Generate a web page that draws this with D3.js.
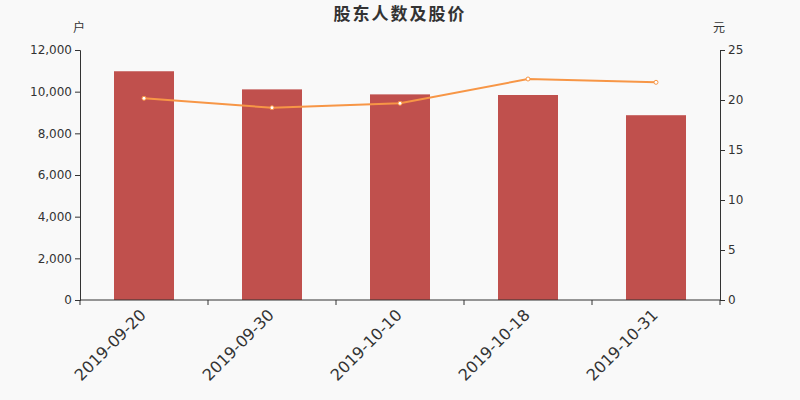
<!DOCTYPE html>
<head>
  <meta charset="utf-8">
  <script src="https://d3js.org/d3.v7.min.js"></script>
  <style>
    body { margin: 0; background: #f9f9f9; }
    svg { display: block; font-family: "Noto Sans CJK SC", "DejaVu Sans", sans-serif; }
  </style>
</head>
<body>
  <svg width="800" height="400"></svg>
  <script>
    // data
    var dates = ["2019-09-20", "2019-09-30", "2019-10-10", "2019-10-18", "2019-10-31"];
    var holders = [10980, 10110, 9870, 9840, 8870];
    var prices = [20.17, 19.23, 19.67, 22.1, 21.77];
    var leftTicks = [0, 2000, 4000, 6000, 8000, 10000, 12000];
    var rightTicks = [0, 5, 10, 15, 20, 25];

    var margin = {top: 50, right: 80, bottom: 100, left: 80};
    var width = 800, height = 400;

    var svg = d3.select('svg');

    var x = d3.scaleBand()
      .domain(dates)
      .range([margin.left, width - margin.right]);

    var yLeft = d3.scaleLinear()
      .domain([0, 12000])
      .range([height - margin.bottom, margin.top]);

    var yRight = d3.scaleLinear()
      .domain([0, 25])
      .range([height - margin.bottom, margin.top]);

    // bars
    var barW = 60;
    svg.append('g').selectAll('rect')
      .data(holders)
      .enter().append('rect')
      .attr('x', function(d, i) { return x(dates[i]) + (x.bandwidth() - barW) / 2; })
      .attr('y', function(d) { return yLeft(d); })
      .attr('width', barW)
      .attr('height', function(d) { return yLeft(0) - yLeft(d); })
      .attr('fill', '#c0504d');

    // axes
    var fmt = d3.format(',');
    var gl = svg.append('g')
      .attr('transform', 'translate(' + margin.left + ',0)')
      .call(d3.axisLeft(yLeft).tickValues(leftTicks).tickFormat(fmt).tickSizeOuter(0).tickSize(5));
    var gr = svg.append('g')
      .attr('transform', 'translate(' + (width - margin.right) + ',0)')
      .call(d3.axisRight(yRight).tickValues(rightTicks).tickSizeOuter(0).tickSize(5));

    // x axis with ticks at band boundaries
    var gx = svg.append('g')
      .attr('transform', 'translate(0,' + (height - margin.bottom) + ')');
    gx.append('line')
      .attr('x1', margin.left).attr('x2', width - margin.right)
      .attr('stroke', '#333');
    var bounds = dates.map(function(d) { return x(d); }).concat([x(dates[dates.length - 1]) + x.bandwidth()]);
    gx.selectAll('.tk').data(bounds).enter().append('line')
      .attr('x1', function(d) { return d; }).attr('x2', function(d) { return d; })
      .attr('y1', 0).attr('y2', 5)
      .attr('stroke', '#333');
    gx.selectAll('text').data(dates).enter().append('text')
      .attr('transform', function(d) { return 'translate(' + (x(d) + x.bandwidth() / 2 + 3) + ',16) rotate(-45)'; })
      .attr('text-anchor', 'end')
      .attr('font-size', 16)
      .attr('font-family', '"DejaVu Sans", sans-serif')
      .attr('fill', '#333')
      .text(function(d) { return d; });

    [gl, gr].forEach(function(g) {
      g.select('.domain').attr('stroke', '#333');
      g.selectAll('.tick line').attr('stroke', '#333');
      g.selectAll('.tick text').attr('fill', '#333').attr('font-size', 12)
        .attr('font-family', '"DejaVu Sans", sans-serif');
    });

    // line
    var line = d3.line()
      .x(function(d, i) { return x(dates[i]) + x.bandwidth() / 2; })
      .y(function(d) { return yRight(d); });
    svg.append('path')
      .datum(prices)
      .attr('d', line)
      .attr('fill', 'none')
      .attr('stroke', '#f79646')
      .attr('stroke-width', 2);
    svg.append('g').selectAll('circle')
      .data(prices)
      .enter().append('circle')
      .attr('cx', function(d, i) { return x(dates[i]) + x.bandwidth() / 2; })
      .attr('cy', function(d) { return yRight(d); })
      .attr('r', 2)
      .attr('fill', '#fff')
      .attr('stroke', '#f79646')
      .attr('stroke-width', 1);

    // titles
    svg.append('text')
      .attr('x', width / 2).attr('y', 20)
      .attr('text-anchor', 'middle')
      .attr('font-size', 17).attr('font-weight', 'bold')
      .attr('letter-spacing', 2)
      .attr('fill', '#333')
      .text('股东人数及股价');
    svg.append('text')
      .attr('x', 79).attr('y', 32)
      .attr('text-anchor', 'middle')
      .attr('font-size', 12).attr('fill', '#333')
      .text('户');
    svg.append('text')
      .attr('x', 719).attr('y', 32)
      .attr('text-anchor', 'middle')
      .attr('font-size', 12).attr('fill', '#333')
      .text('元');
  </script>
</body>
